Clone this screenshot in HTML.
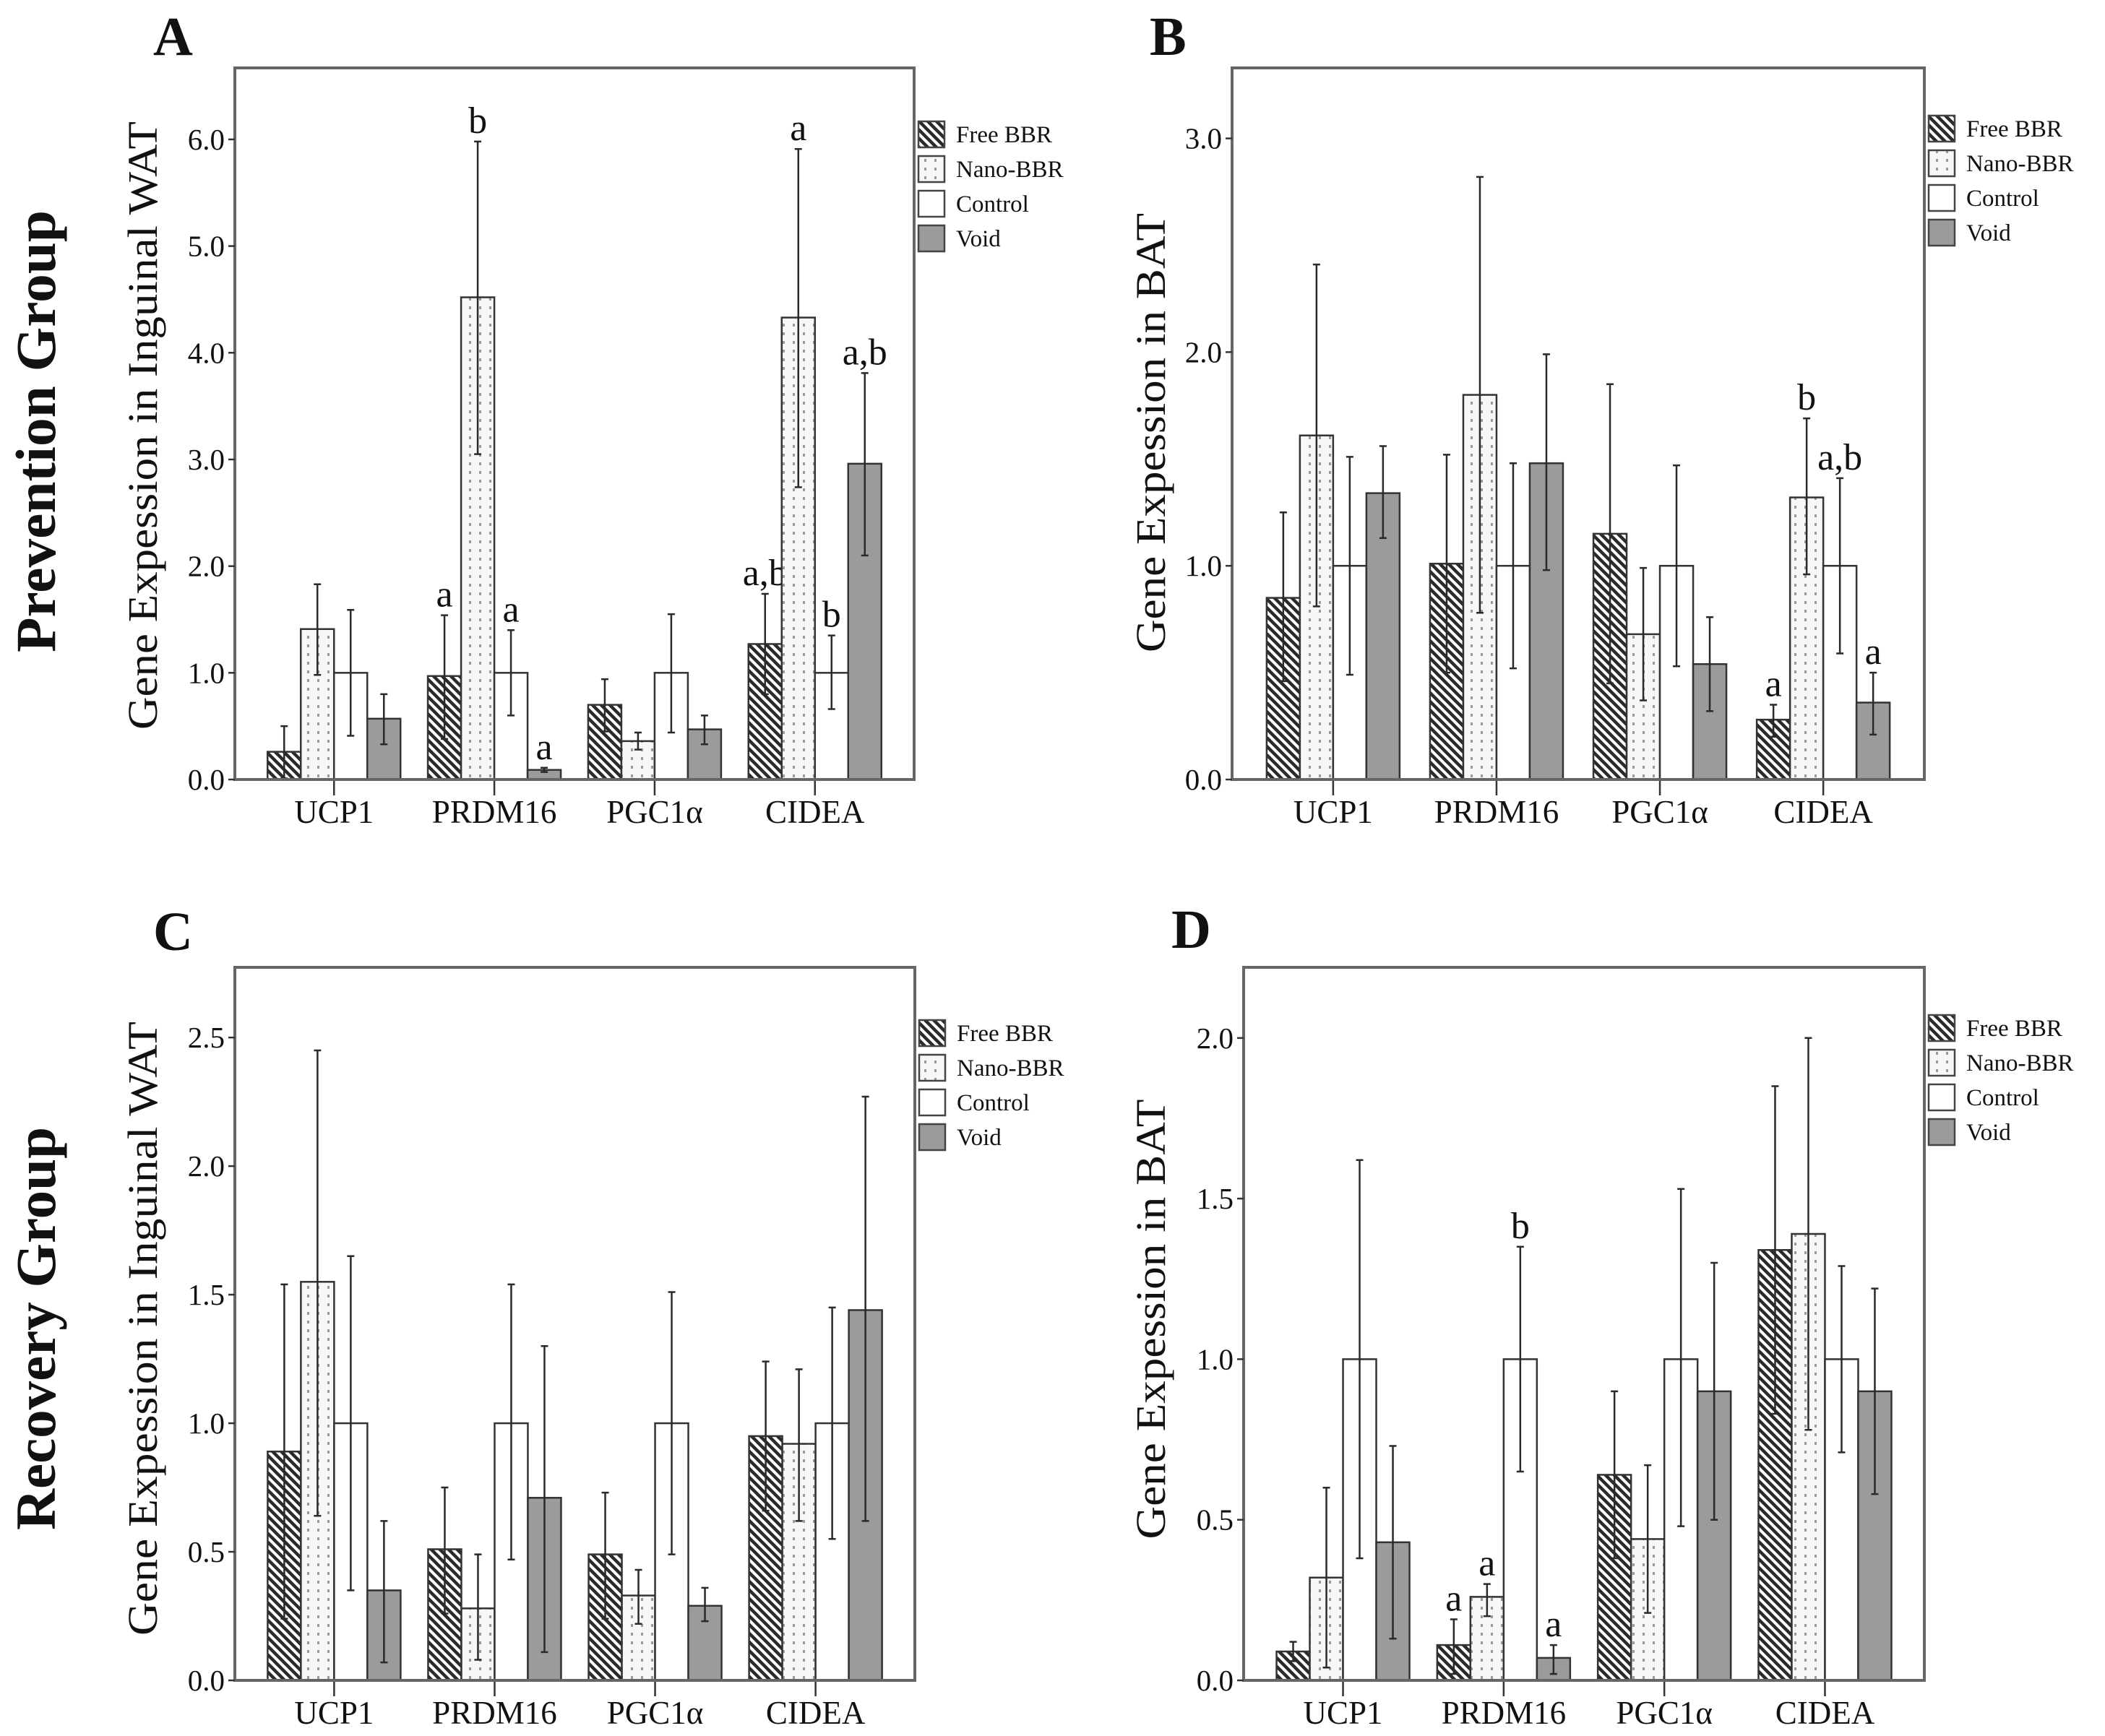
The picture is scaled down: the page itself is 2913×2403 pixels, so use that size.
<!DOCTYPE html>
<html><head><meta charset="utf-8"><style>
html,body{margin:0;padding:0;background:#fff}
svg{display:block}
text{font-family:"Liberation Serif",serif;fill:#111}
</style></head><body>
<svg id="fig" width="2913" height="2403" viewBox="0 0 2913 2403" xmlns="http://www.w3.org/2000/svg">
<defs>
<pattern id="hatch" patternUnits="userSpaceOnUse" width="12" height="12">
<rect width="12" height="12" fill="#fff"/>
<path d="M-3,-3 L15,15 M-3,9 L3,15 M9,-3 L15,3" stroke="#2a2a2a" stroke-width="4.5"/>
</pattern>
<pattern id="dots" patternUnits="userSpaceOnUse" width="14" height="12">
<rect width="14" height="12" fill="#f7f7f7"/>
<rect x="5" y="4" width="3" height="4" fill="#9a9a9a"/>
</pattern>
</defs>
<g id="root"></g>
</svg>
<script>
// ---- data ----
const categories = ["UCP1","PRDM16","PGC1\u03b1","CIDEA"];
const seriesNames = ["Free BBR","Nano-BBR","Control","Void"];
// Panel A (Prevention, Inguinal WAT)
const aMean = [[0.26,1.41,1.0,0.57],[0.97,4.52,1.0,0.09],[0.70,0.36,1.0,0.47],[1.27,4.33,1.0,2.96]];
const aLow  = [[0.01,0.98,0.41,0.33],[0.38,3.05,0.60,0.07],[0.45,0.28,0.44,0.33],[0.80,2.74,0.66,2.10]];
const aHigh = [[0.50,1.83,1.59,0.80],[1.54,5.98,1.40,0.11],[0.94,0.44,1.55,0.60],[1.74,5.91,1.35,3.81]];
const aSig  = [["","","",""],["a","b","a","a"],["","","",""],["a,b","a","b","a,b"]];
const aTicks = [0,1,2,3,4,5,6];
// Panel B (Prevention, BAT)
const bMean = [[0.85,1.61,1.0,1.34],[1.01,1.80,1.0,1.48],[1.15,0.68,1.0,0.54],[0.28,1.32,1.0,0.36]];
const bLow  = [[0.46,0.81,0.49,1.13],[0.50,0.78,0.52,0.98],[0.45,0.37,0.53,0.32],[0.20,0.96,0.59,0.21]];
const bHigh = [[1.25,2.41,1.51,1.56],[1.52,2.82,1.48,1.99],[1.85,0.99,1.47,0.76],[0.35,1.69,1.41,0.50]];
const bSig  = [["","","",""],["","","",""],["","","",""],["a","b","a,b","a"]];
const bTicks = [0,1,2,3];
// Panel C (Recovery, Inguinal WAT)
const cMean = [[0.89,1.55,1.0,0.35],[0.51,0.28,1.0,0.71],[0.49,0.33,1.0,0.29],[0.95,0.92,1.0,1.44]];
const cLow  = [[0.24,0.64,0.35,0.07],[0.26,0.08,0.47,0.11],[0.24,0.22,0.49,0.23],[0.66,0.62,0.55,0.62]];
const cHigh = [[1.54,2.45,1.65,0.62],[0.75,0.49,1.54,1.30],[0.73,0.43,1.51,0.36],[1.24,1.21,1.45,2.27]];
const cSig  = [["","","",""],["","","",""],["","","",""],["","","",""]];
const cTicks = [0,0.5,1,1.5,2,2.5];
// Panel D (Recovery, BAT)
const dMean = [[0.09,0.32,1.0,0.43],[0.11,0.26,1.0,0.07],[0.64,0.44,1.0,0.90],[1.34,1.39,1.0,0.90]];
const dLow  = [[0.06,0.04,0.38,0.13],[0.02,0.20,0.65,0.02],[0.38,0.21,0.48,0.50],[0.83,0.78,0.71,0.58]];
const dHigh = [[0.12,0.60,1.62,0.73],[0.19,0.30,1.35,0.11],[0.90,0.67,1.53,1.30],[1.85,2.00,1.29,1.22]];
const dSig  = [["","","",""],["a","a","b","a"],["","","",""],["","","",""]];
const dTicks = [0,0.5,1,1.5,2];

const NS="http://www.w3.org/2000/svg";
const root=document.getElementById('root');
function mk(tag,attrs,parent,txt){const e=document.createElementNS(NS,tag);for(const k in attrs)e.setAttribute(k,attrs[k]);if(txt!==undefined)e.textContent=txt;(parent||root).appendChild(e);return e;}
const fills=["url(#hatch)","url(#dots)","#ffffff","#9b9b9b"];
const SERIF='"Liberation Serif", serif';

function panel(p){
  const g=mk('g',{});
  
  
  const W=p.R-p.L;
  const y=v=>p.B-(v/p.max)*(p.B-p.T);
  const spacing=W*0.236, off=(W-3*spacing)/2, bw=46;
  const cx=i=>p.L+off+i*spacing;
  const lt=mk('text',{x:p.lx,y:p.ly,'font-size':76,'font-weight':'bold','font-family':SERIF},g,p.id);
  
  
  for(let c=0;c<4;c++){
    for(let s=0;s<4;s++){
      const x0=cx(c)-2*bw+s*bw;
      const yt=y(p.mean[c][s]);
      const r=mk('rect',{x:x0,y:yt,width:bw,height:p.B-yt,fill:fills[s],stroke:'#333','stroke-width':2.5},g);
      
      
      const xm=x0+bw/2, yh=y(p.high[c][s]), yl=y(p.low[c][s]);
      const eb=mk('path',{d:`M${xm},${yh}V${yl}M${xm-5},${yh}H${xm+5}M${xm-5},${yl}H${xm+5}`,stroke:'#2a2a2a','stroke-width':2.5,fill:'none'},g);
      
      
      if(p.sig[c][s]){
        const t=mk('text',{x:xm,y:yh-12,'font-size':52,'text-anchor':'middle','font-family':SERIF},g,p.sig[c][s]);
        
        
      }
    }
    const ct=mk('line',{x1:cx(c),y1:p.B,x2:cx(c),y2:p.B+22,stroke:'#333','stroke-width':2.5},g);
    
    
    const cl=mk('text',{x:cx(c),y:p.B+60,'font-size':45,'text-anchor':'middle','font-family':SERIF},g,categories[c]);
    
    
  }
  const box=mk('rect',{x:p.L,y:p.T,width:W,height:p.B-p.T,fill:'none',stroke:'#666','stroke-width':4},g);
  
  
  p.ticks.forEach(v=>{
    const tk=mk('line',{x1:p.L-9,y1:y(v),x2:p.L,y2:y(v),stroke:'#333','stroke-width':2.5},g);
    
    
    const tl=mk('text',{x:p.L-14,y:y(v)+14,'font-size':41,'text-anchor':'end','font-family':SERIF},g,v.toFixed(1));
    
    
  });
  const yt=mk('text',{x:0,y:0,'font-size':58,'text-anchor':'middle','font-family':SERIF,textLength:p.tlen,lengthAdjust:'spacingAndGlyphs',transform:`translate(${p.tx},${p.tc}) rotate(-90)`},g,p.title);
  
  
  const lg=mk('g',{},g);
  
  
  for(let s=0;s<4;s++){
    const yc=p.leg0+s*48;
    const sw=mk('rect',{x:p.R+6,y:yc-18,width:36,height:36,fill:fills[s],stroke:'#444','stroke-width':2.5},lg);
    
    
    const lt2=mk('text',{x:p.R+58,y:yc+11,'font-size':33,'font-family':SERIF},lg,seriesNames[s]);
    
    
  }
}
panel({id:'A',L:325,T:94,R:1265,B:1079,max:6.67,mean:aMean,low:aLow,high:aHigh,sig:aSig,ticks:aTicks,lx:212,ly:76,title:'Gene Expession in Inguinal WAT',tx:217,tc:589,tlen:842,leg0:186});
panel({id:'B',L:1705,T:94,R:2663,B:1079,max:3.33,mean:bMean,low:bLow,high:bHigh,sig:bSig,ticks:bTicks,lx:1591,ly:76,title:'Gene Expession in BAT',tx:1612,tc:599,tlen:608,leg0:178});
panel({id:'C',L:325,T:1339,R:1266,B:2326,max:2.773,mean:cMean,low:cLow,high:cHigh,sig:cSig,ticks:cTicks,lx:212,ly:1315,title:'Gene Expession in Inguinal WAT',tx:217,tc:1839,tlen:850,leg0:1430});
panel({id:'D',L:1721,T:1339,R:2663,B:2326,max:2.22,mean:dMean,low:dLow,high:dHigh,sig:dSig,ticks:dTicks,lx:1621,ly:1312,title:'Gene Expession in BAT',tx:1612,tc:1826,tlen:609,leg0:1423});

const g1=mk('text',{x:0,y:0,'font-size':78,'font-weight':'bold','text-anchor':'middle','font-family':SERIF,textLength:612,lengthAdjust:'spacingAndGlyphs',transform:'translate(76,597) rotate(-90)'},root,'Prevention Group');


const g2=mk('text',{x:0,y:0,'font-size':78,'font-weight':'bold','text-anchor':'middle','font-family':SERIF,textLength:558,lengthAdjust:'spacingAndGlyphs',transform:'translate(76,1839) rotate(-90)'},root,'Recovery Group');


</script>
</body></html>
